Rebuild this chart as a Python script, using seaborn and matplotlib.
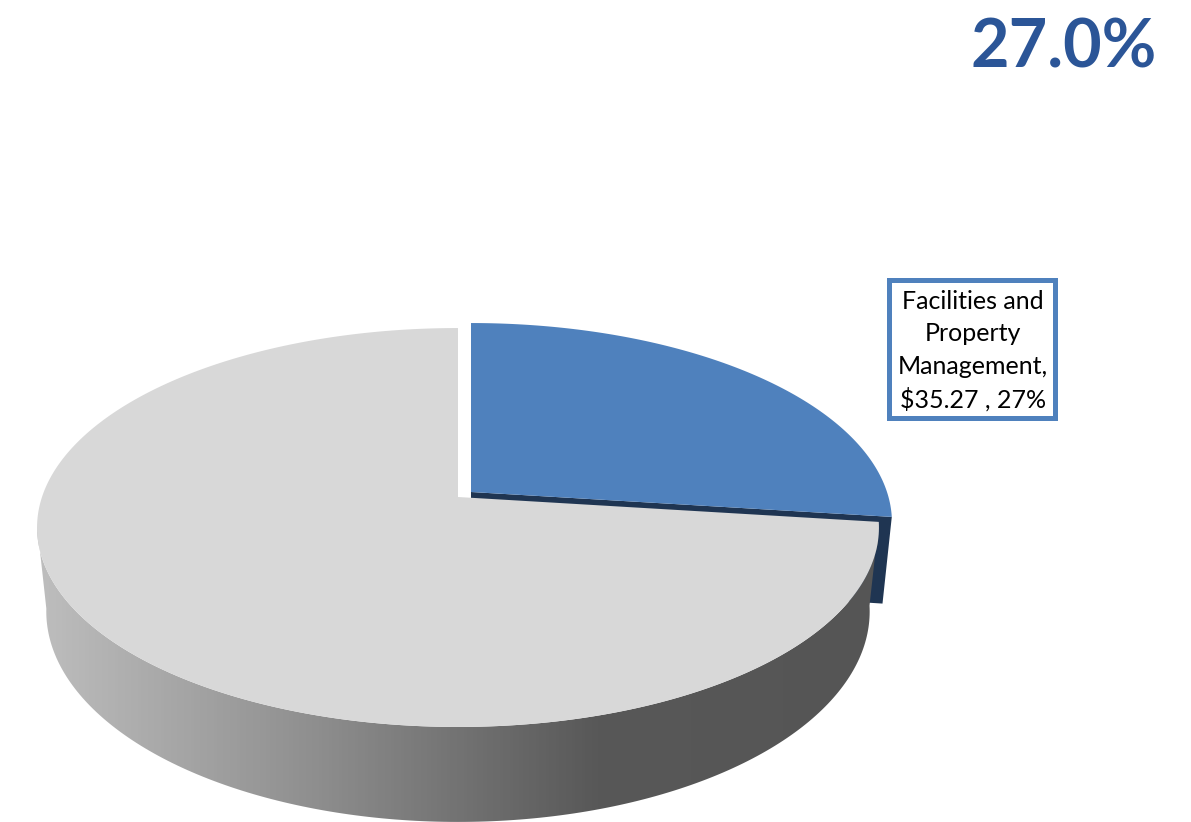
import numpy as np
import matplotlib
matplotlib.use("Agg")
import matplotlib.pyplot as plt
from matplotlib.patches import Polygon, Rectangle
import seaborn as sns

# Werte aus dem Bild
categories = ["Facilities and\nProperty\nManagement,", "Other"]
values = [35.27, 95.36]
value_labels = ["$35.27 , 27%", ""]
headline = "27.0%"

BLUE = "#4f81bd"
BLUE_DARK = "#1f3552"
GREY = "#d8d8d8"
HEAD = "#2b5597"

sns.set_theme(style="white")
plt.rcParams["font.family"] = ["Lato", "DejaVu Sans"]

# Perspektive der Scheibe (Pixel im Bild)
CX, CY = 458.0, 497.0
AX, AY, PERSP = 416.0, 194.8, 0.1529
OFFSET = (13.0, -5.0)


def top_disc(deg):
    # Winkel im Uhrzeigersinn ab 12 Uhr
    t = np.radians(deg)
    u, v = np.sin(t), np.cos(t)
    w = 1 + PERSP * v
    return CX + AX * u / w, CY - AY * v / w


def lower(x, y):
    # gleiche Punkte auf der Unterseite
    return 457 + (x - 457) * 0.978, y + 84 + 0.055 * (y - 527.5)


shares = np.array(values) / np.sum(values)
split = 360 * shares[0]

fig, ax = plt.subplots(figsize=(11.91, 8.22), dpi=100)
fig.subplots_adjust(0, 0, 1, 1)
ax.set_xlim(0, 1191)
ax.set_ylim(822, 0)
ax.axis("off")

# Blaues Stueck: dunkle Wand
bx, by = top_disc(np.linspace(0, split, 120))
ax_wall_x = np.array([CX, bx[-1]]) + OFFSET[0]
ax_wall_y = np.array([CY, by[-1]]) + OFFSET[1]
low_x, low_y = lower(np.array([CX, bx[-1]]), np.array([CY, by[-1]]))
low_x, low_y = low_x + OFFSET[0], low_y + OFFSET[1] + 3
ax.add_patch(Polygon(np.column_stack([np.r_[ax_wall_x, low_x[::-1]],
                                      np.r_[ax_wall_y, low_y[::-1]]]),
                     closed=True, fc=BLUE_DARK, ec="none", zorder=1))

# Graue Wand mit Verlauf
wall_deg = np.linspace(split, 262, 200)
wx, wy = top_disc(wall_deg)
lx, ly = lower(wx, wy)
wall = Polygon(np.column_stack([np.r_[wx, lx[::-1]], np.r_[wy, ly[::-1]]]),
               closed=True, transform=ax.transData, fc="none", ec="none")
ax.add_patch(wall)
shade = sns.blend_palette(["#bebebe", "#8e8e8e", "#585858", "#555555"], as_cmap=True)
grad = ax.imshow(np.linspace(0, 1, 256)[None, :], cmap=shade, aspect="auto",
                 extent=(36, 878, 822, 500), zorder=2)
grad.set_clip_path(wall)
ax.set_xlim(0, 1191)
ax.set_ylim(822, 0)

# Graue Oberseite
gx, gy = top_disc(np.linspace(split, 360, 300))
ax.fill(np.r_[CX, gx], np.r_[CY, gy], color=GREY, lw=0, zorder=3)

# Blaue Oberseite
ax.fill(np.r_[CX, bx] + OFFSET[0], np.r_[CY, by] + OFFSET[1], color=BLUE, lw=0, zorder=4)

# Beschriftung
ax.add_patch(Rectangle((889, 280), 166, 138, fc="white", ec=BLUE, lw=3.6, zorder=5))
ax.text(973, 351, categories[0] + "\n" + value_labels[0], ha="center", va="center",
        fontsize=18, color="black", linespacing=1.48, zorder=6)

ax.text(1157, 49, headline, ha="right", va="center", fontsize=48, fontweight="bold",
        color=HEAD, zorder=6)

fig.savefig("out.png", dpi=100)
